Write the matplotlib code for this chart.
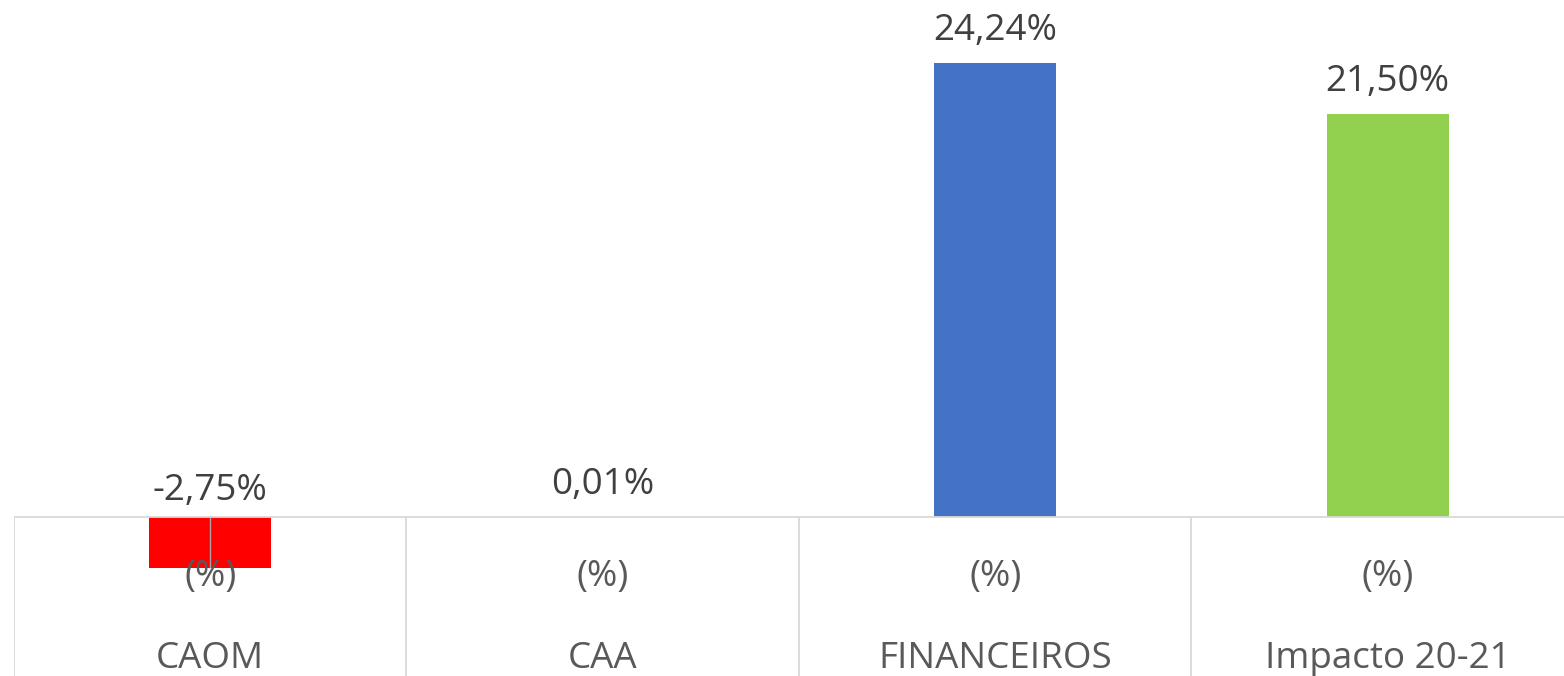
import matplotlib.pyplot as plt

categories = ["CAOM", "CAA", "FINANCEIROS", "Impacto 20-21"]
sub_labels = ["(%)", "(%)", "(%)", "(%)"]
values = [-2.75, 0.01, 24.24, 21.50]
colors = ["#FF0000", "#4472C4", "#4472C4", "#92D050"]

plt.rcParams['font.family'] = ['Open Sans', 'DejaVu Sans']

fig = plt.figure(figsize=(15.64, 6.76), dpi=100)
# axes run past the right edge, the reference is cropped there
ax = fig.add_axes([14 / 1564, 0, 1570 / 1564, 1])

x = list(range(len(categories)))
ax.bar(x, values, width=0.31, color=colors, zorder=2)

ax.set_xlim(-0.5, 3.5)
ax.set_ylim(-8.49, 27.6)
ax.axis("off")

grid = "#d9d9d9"
ax.axhline(0, color=grid, lw=1.3, zorder=3)
ax.vlines([i - 0.5 for i in range(len(categories) + 1)], -8.49, 0,
          color=grid, lw=1.3, zorder=1)
# small tick drawn over the negative bar
ax.vlines(0, values[0], 0, color="#a6a6a6", lw=1.0, zorder=3)

for i, v in enumerate(values):
    txt = f"{v:.2f}".replace(".", ",") + "%"
    off = 12 if v < 0 else 16.5
    ax.annotate(txt, (i, max(v, 0)), xytext=(0, off), textcoords="offset points",
                ha="center", va="baseline", fontsize=26.5, color="#404040")
    ax.annotate(sub_labels[i], (i, 0), xytext=(0, -43), textcoords="offset points",
                ha="center", va="center", fontsize=26.5, color="#595959")
    ax.annotate(categories[i], (i, 0), xytext=(0, -102), textcoords="offset points",
                ha="center", va="center", fontsize=26.5, color="#595959")

fig.savefig("out.png", dpi=100)
